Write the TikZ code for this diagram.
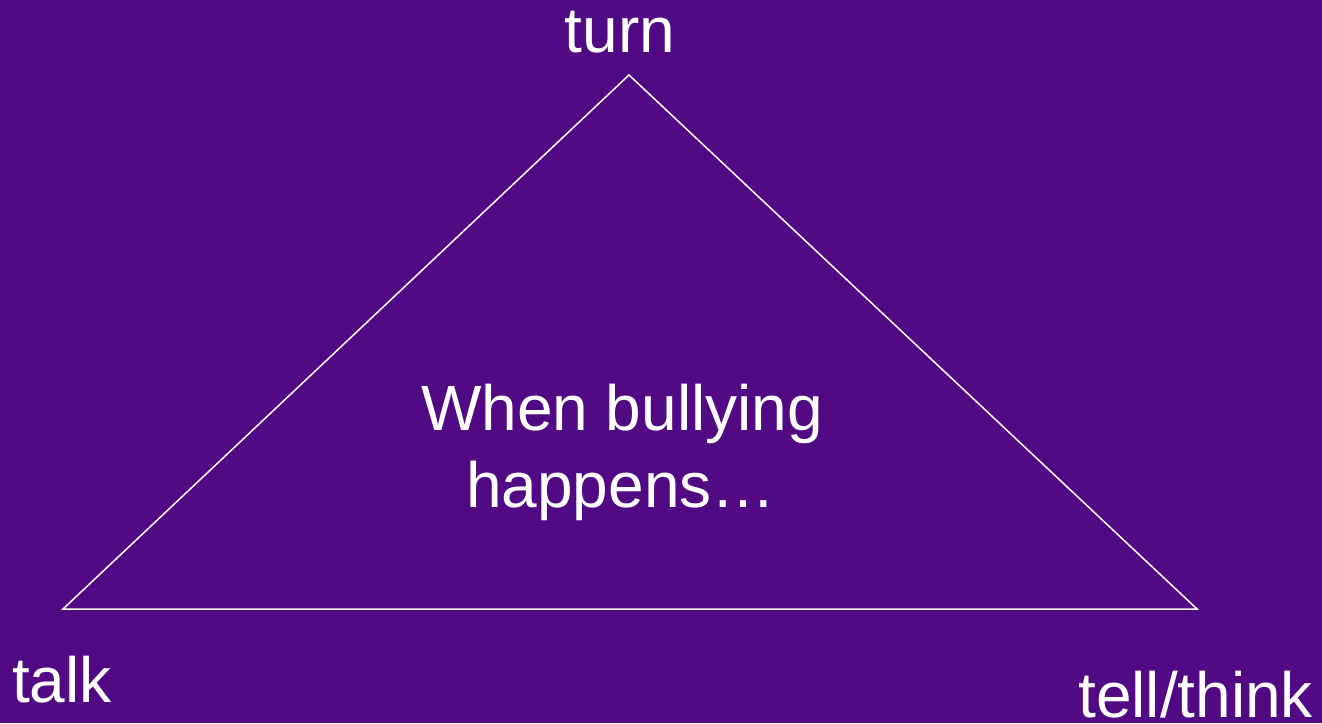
\documentclass[tikz,border=0pt]{standalone}
\usepackage{fontspec}
\setmainfont{Liberation Sans}
\definecolor{bgpurple}{HTML}{520A84}
\begin{document}
\begin{tikzpicture}[x=1pt,y=-1pt,
  lbl/.style={text=white,inner sep=0pt,font=\fontsize{64}{77}\selectfont},
  edge/.style={draw=white,line width=1.5pt,line join=miter}]
\fill[bgpurple] (0,0) rectangle (1322,723);
\useasboundingbox (0,0) rectangle (1322,723);
\coordinate (top) at (629,75);
\coordinate (left) at (63,609);
\coordinate (right) at (1197,609);
\draw[edge] (top) -- (right) -- (left) -- cycle;
\node[lbl,anchor=base] (turn) at (620,52) {turn};
\node[lbl,anchor=base west] (talk) at (12,702) {talk};
\node[lbl,anchor=base west] (tell) at (1078,717) {tell/think};
\node[lbl,anchor=base] (when) at (622,430) {When bullying};
\node[lbl,anchor=base] (happens) at (621,507) {happens…};
\end{tikzpicture}
\end{document}
